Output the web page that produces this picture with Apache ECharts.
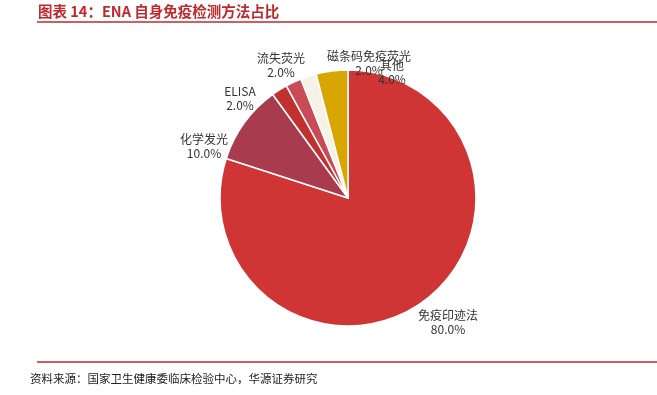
<!DOCTYPE html>
<html><head><meta charset="utf-8">
<script src="https://cdn.jsdelivr.net/npm/echarts@6/dist/echarts.min.js"></script>
<style>html,body{margin:0;padding:0;background:#fff}#c{width:657px;height:395px}</style>
</head><body><div id="c"></div>
<script>
const categories = ['免疫印迹法','化学发光','ELISA','流失荧光','磁条码免疫荧光','其他'];
const values = [80, 10, 2, 2, 2, 4];
const colors = ['#D03536','#A93B4F','#C1312F','#C84B57','#F6F2E8','#D9A500'];
// label anchor points (text block centers), as placed in the original
const labelPos = [[448,322],[204,146],[240,98],[281,65],[369,63],[392,72]];
const chart = echarts.init(document.getElementById('c'));
chart.setOption({
  animation:false,
  graphic:[
    {type:'text',left:38,top:4,style:{text:'图表 14：ENA 自身免疫检测方法占比',fill:'#C0282D',font:'bold 14.5px "Noto Sans CJK SC"'}},
    {type:'line',shape:{x1:37,y1:22,x2:657,y2:22},style:{stroke:'#C0282D',lineWidth:1.5}},
    {type:'line',shape:{x1:37,y1:362,x2:657,y2:362},style:{stroke:'#C0282D',lineWidth:1.5}},
    {type:'text',left:30,top:373,style:{text:'资料来源：国家卫生健康委临床检验中心，华源证券研究',fill:'#222',font:'11.5px "Noto Sans CJK SC"'}}
  ],
  series:[{
    type:'pie',
    center:[348,198],
    radius:[0,128],
    startAngle:90,
    clockwise:true,
    avoidLabelOverlap:false,
    itemStyle:{borderColor:'#fff',borderWidth:1.5},
    label:{show:true,position:'outside',color:'#333',fontSize:12,lineHeight:14,fontFamily:'"Noto Sans CJK SC"',
      formatter:function(p){return p.name+'\n'+p.value.toFixed(1)+'%';}},
    labelLine:{show:false,length:8,length2:0},
    labelLayout:function(p){
      const pos = labelPos[p.dataIndex];
      return {x:pos[0],y:pos[1],align:'center',verticalAlign:'middle',hideOverlap:false,moveOverlap:null};
    },
    data:categories.map((n,i)=>({name:n,value:values[i],itemStyle:{color:colors[i]}}))
  }]
});
</script></body></html>
